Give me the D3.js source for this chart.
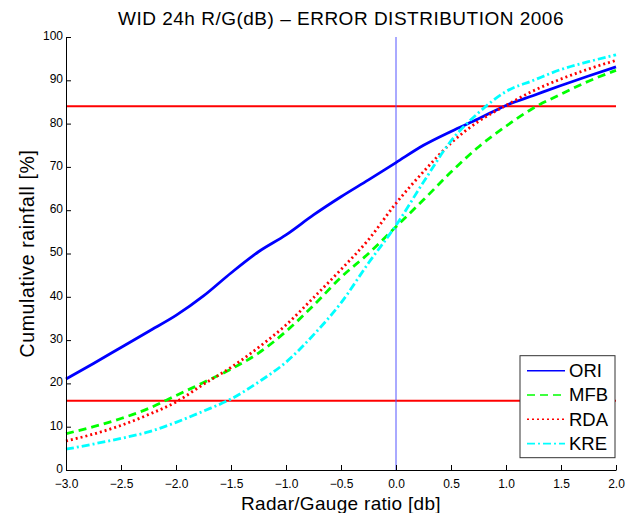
<!DOCTYPE html>
<html>
<head>
<meta charset="utf-8">
<script src="https://cdn.jsdelivr.net/npm/d3@7"></script>
<style>
  body { margin: 0; background: #fff; }
  svg text { font-family: "Liberation Sans", Arial, sans-serif; }
</style>
</head>
<body>
<div id="chart"></div>
<script>
const xValues = [-3, -2.75, -2.5, -2.25, -2, -1.75, -1.5, -1.25, -1, -0.75, -0.5, -0.25, 0, 0.25, 0.5, 0.75, 1, 1.25, 1.5, 1.75, 2];
const ori = [21.0, 24.6, 28.3, 32.0, 35.7, 40.2, 45.5, 50.4, 54.3, 58.9, 63.1, 67.0, 71.0, 75.0, 78.2, 81.1, 84.2, 86.5, 88.8, 91.0, 93.1];
const mfb = [8.4, 10.0, 11.9, 14.2, 17.2, 20.2, 23.3, 27.0, 32.0, 38.0, 44.5, 50.0, 56.2, 62.4, 68.8, 74.6, 79.4, 83.6, 86.8, 89.8, 92.3];
const rda = [6.7, 8.3, 10.3, 12.8, 15.7, 19.8, 23.7, 28.3, 33.5, 39.8, 46.3, 53.2, 61.6, 68.9, 75.5, 80.5, 84.2, 87.6, 90.3, 92.6, 94.6];
const kre = [4.8, 6.0, 7.3, 8.8, 11.0, 13.6, 16.4, 20.3, 24.9, 31.2, 38.6, 47.8, 56.5, 66.5, 76.0, 82.5, 87.4, 90.0, 92.5, 94.3, 95.9];
const seriesNames = ["ORI", "MFB", "RDA", "KRE"];
const refLines = [16, 84];
const xTicks = [-3, -2.5, -2, -1.5, -1, -0.5, 0, 0.5, 1, 1.5, 2];
const yTicks = [0, 10, 20, 30, 40, 50, 60, 70, 80, 90, 100];

const W = 626, H = 513;
const margin = { top: 37, right: 10, bottom: 43, left: 66 };
const width = W - margin.left - margin.right;
const height = H - margin.top - margin.bottom;

const svg = d3.select("#chart").append("svg")
  .attr("width", W).attr("height", H);
const g = svg.append("g")
  .attr("transform", `translate(${margin.left},${margin.top})`);

const x = d3.scaleLinear().domain([-3, 2]).range([0, width]);
const y = d3.scaleLinear().domain([0, 100]).range([height, 0]);

const styles = [
  { color: "#0000ff", dash: null },
  { color: "#00ff00", dash: "8,5" },
  { color: "#ff0000", dash: "2,3" },
  { color: "#00ffff", dash: "8,3,2,3" }
];
const data = [ori, mfb, rda, kre];

// reference lines
g.selectAll(".ref").data(refLines).enter().append("line")
  .attr("x1", 0).attr("x2", width)
  .attr("y1", d => y(d)).attr("y2", d => y(d))
  .attr("stroke", "#ff0000").attr("stroke-width", 2);

g.append("line")
  .attr("x1", x(0)).attr("x2", x(0))
  .attr("y1", 0).attr("y2", height)
  .attr("stroke", "#5555ff").attr("stroke-width", 1);

const line = d3.line()
  .x((d, i) => x(xValues[i]))
  .y(d => y(d))
  .curve(d3.curveMonotoneX);

g.selectAll(".curve").data(data).enter().append("path")
  .attr("d", d => line(d))
  .attr("fill", "none")
  .attr("stroke", (d, i) => styles[i].color)
  .attr("stroke-width", 2.8)
  .attr("stroke-dasharray", (d, i) => styles[i].dash);

// axes
const xAxis = d3.axisBottom(x).tickValues(xTicks).tickSize(-5).tickSizeOuter(0).tickPadding(9);
const yAxis = d3.axisLeft(y).tickValues(yTicks).tickSize(-5).tickSizeOuter(0).tickPadding(3);

const gx = g.append("g").attr("transform", `translate(0,${height})`).call(xAxis);
const gy = g.append("g").call(yAxis);
[gx, gy].forEach(a => {
  a.selectAll("text").attr("font-size", 12).attr("fill", "#000");
  a.select(".domain").attr("stroke", "#000");
  a.selectAll(".tick line").attr("stroke", "#000");
});
gy.selectAll("text").attr("dy", "0.2em");

svg.append("text")
  .attr("x", margin.left + width / 2).attr("y", 25)
  .attr("text-anchor", "middle").attr("font-size", 19)
  .attr("letter-spacing", 0.5)
  .text("WID 24h R/G(dB) \u2013 ERROR DISTRIBUTION 2006");

svg.append("text")
  .attr("x", margin.left + width / 2).attr("y", 510)
  .attr("text-anchor", "middle").attr("font-size", 19)
  .attr("letter-spacing", 0.3)
  .text("Radar/Gauge ratio [db]");

svg.append("text")
  .attr("transform", `translate(34,${margin.top + height / 2}) rotate(-90)`)
  .attr("text-anchor", "middle").attr("font-size", 19.5)
  .attr("letter-spacing", 0.6)
  .text("Cumulative rainfall [%]");

// legend
const legend = g.append("g")
  .attr("transform", `translate(${width - 96},${y(26.4)})`);
legend.append("rect")
  .attr("width", 95).attr("height", 102)
  .attr("fill", "#fff").attr("stroke", "#333").attr("stroke-width", 1);

const items = legend.selectAll(".item").data(seriesNames).enter().append("g")
  .attr("transform", (d, i) => `translate(0,${15 + i * 24.3})`);
items.append("line")
  .attr("x1", 7).attr("x2", 45)
  .attr("stroke", (d, i) => styles[i].color)
  .attr("stroke-width", 1.6)
  .attr("stroke-dasharray", (d, i) => styles[i].dash);
items.append("text")
  .attr("x", 49).attr("y", 6.5)
  .attr("font-size", 18.5)
  .text(d => d);
</script>
</body>
</html>
